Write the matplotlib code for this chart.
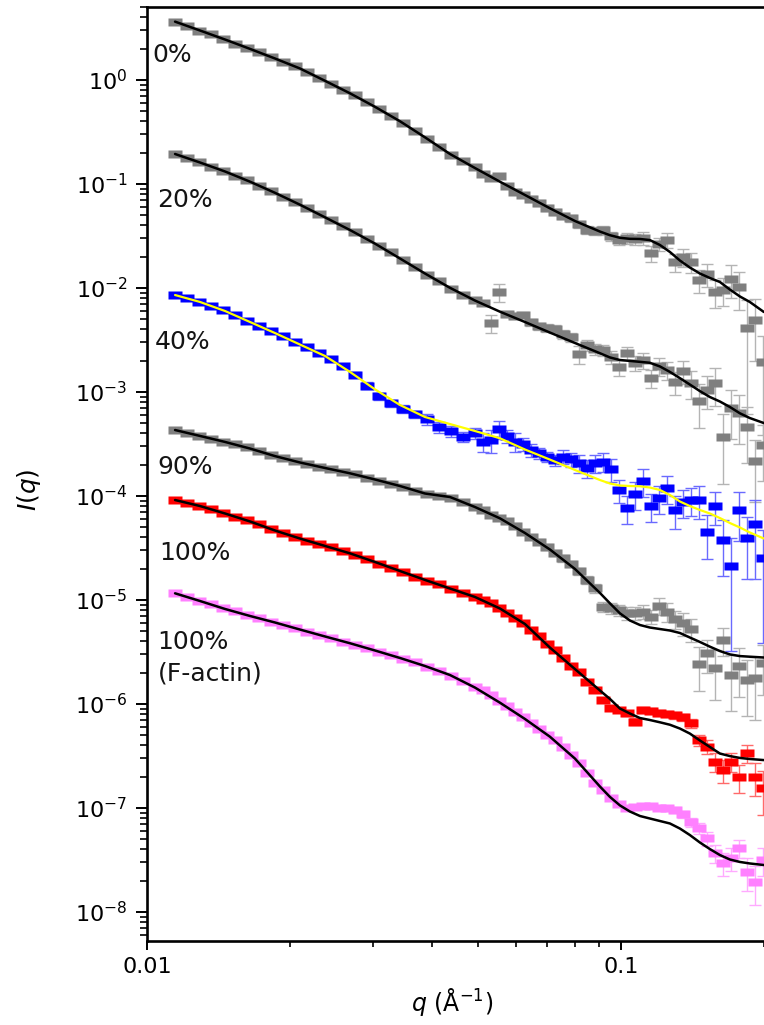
import numpy as np
import matplotlib
matplotlib.use("Agg")
import matplotlib.pyplot as plt
from matplotlib.path import Path
from matplotlib.ticker import (FixedLocator, FixedFormatter, LogLocator,
                               LogFormatterSciNotation, NullFormatter)

# ---------------------------------------------------------------- data
# scattering vector of the measured points (1/Angstrom), shared by all samples
q_data = [0.01146, 0.01215, 0.01288, 0.01365, 0.01447, 0.01534, 0.01626, 0.01723,
          0.01827, 0.01936, 0.02053, 0.02176, 0.02307, 0.02445, 0.02592, 0.02747,
          0.02912, 0.03087, 0.03272, 0.03469, 0.03677, 0.03898, 0.04132, 0.04380,
          0.04642, 0.04920,
          0.05115, 0.05318, 0.05529, 0.05748, 0.05976, 0.06213, 0.06459, 0.06714,
          0.06981, 0.07258, 0.07545, 0.07844, 0.08155, 0.08478, 0.08814, 0.09163,
          0.09526, 0.09903, 0.1030, 0.1070, 0.1113, 0.1157, 0.1203, 0.1250,
          0.1300, 0.1351, 0.1405, 0.1461, 0.1519, 0.1579, 0.1641, 0.1706,
          0.1774, 0.1844, 0.1917, 0.1993]

# measured intensities (offset for clarity)
I_0 = [3.64, 3.31, 2.99, 2.74, 2.48, 2.24, 2.03, 1.84, 1.66, 1.50, 1.35, 1.19, 1.05,
       0.925, 0.810, 0.710, 0.614, 0.526, 0.451, 0.384, 0.323, 0.271, 0.229, 0.192,
       0.1646, 0.1457,
       0.1248, 0.1142, 0.1194, 0.0957, 0.0838, 0.0784, 0.0718, 0.0657, 0.0588, 0.0538,
       0.0492, 0.0471, 0.0412, 0.0361, 0.0353, 0.0361, 0.0316, 0.0289, 0.0303, 0.0296,
       0.0303, 0.0217, 0.0265, 0.0289, 0.0178, 0.0199, 0.0178, 0.0119, 0.0136, 0.00915,
       0.00957, 0.0122, 0.01022, 0.00412, 0.00492, 0.00194]
I_20 = [0.1943, 0.1778, 0.1627, 0.1473, 0.1334, 0.1207, 0.1081, 0.0967, 0.0857, 0.0755,
        0.0671, 0.0588, 0.0511, 0.0451, 0.0395, 0.0342, 0.0296, 0.0256, 0.02195, 0.01879,
        0.01581, 0.01348, 0.01155, 0.00989, 0.00866, 0.00775,
        0.00718, 0.00461, 0.00915, 0.00562, 0.00538, 0.00550, 0.00471, 0.00431, 0.00412,
        0.00404, 0.00361, 0.00338, 0.00232, 0.00283, 0.00259, 0.00253, 0.00217, 0.00174,
        0.00237, 0.00190, 0.00203, 0.00136, 0.00178, 0.00163, 0.00125, 0.00159, 0.00122,
        0.00082, 0.00105, 0.00122, 0.000369, 0.000702, 0.000628, 0.000461, 0.000217,
        0.000309]
I_40 = [0.00856, 0.00793, 0.00734, 0.00671, 0.00614, 0.00550, 0.00487, 0.00431, 0.00386,
        0.00345, 0.00303, 0.00268, 0.00237, 0.00208, 0.00178, 0.00147, 0.00115, 0.000915,
        0.000784, 0.000690, 0.000614, 0.000550, 0.000461, 0.000422, 0.000372, 0.000403,
        0.000333, 0.000346, 0.000441, 0.000378, 0.000333, 0.000316, 0.000277, 0.000259,
        0.000239, 0.000222, 0.000239, 0.000225, 0.000208, 0.000185, 0.000206, 0.000214,
        0.000181, 0.0001142, 0.0000772, 0.0001038, 0.0001394, 0.0000807, 0.0000963,
        0.0001186, 0.0000734, 0.0000881, 0.0000915, 0.0000915, 0.0000454, 0.0000807,
        0.0000378, 0.0000214, 0.0000734, 0.0000397, 0.0000534, 0.0000255]
I_90 = [0.000431, 0.000403, 0.000378, 0.000353, 0.000334, 0.000313, 0.000293, 0.000271,
        0.000248, 0.000230, 0.000217, 0.000203, 0.000190, 0.000180, 0.000170, 0.000161,
        0.0001506, 0.0001409, 0.0001319, 0.0001221, 0.0001129, 0.0001045, 0.0001000,
        0.0000967, 0.0000876, 0.0000784,
        0.0000726, 0.0000664, 0.0000614, 0.0000569, 0.0000520, 0.0000451, 0.0000403,
        0.0000365, 0.0000323, 0.0000283, 0.0000251, 0.0000224, 0.0000188, 0.0000156,
        0.0000130, 0.00000862, 0.00000838, 0.00000801, 0.00000750, 0.00000750,
        0.00000772, 0.00000691, 0.00000882, 0.00000772, 0.00000657, 0.00000597,
        0.00000523, 0.00000242, 0.00000307, 0.00000220, 0.00000412, 0.00000190,
        0.00000232, 0.00000170, 0.00000177, 0.00000246]
I_100 = [0.0000915, 0.0000856, 0.0000801, 0.0000742, 0.0000694, 0.0000635, 0.0000588,
         0.0000538, 0.0000482, 0.0000438, 0.0000403, 0.0000373, 0.0000346, 0.0000320,
         0.0000293, 0.0000271, 0.0000248, 0.0000224, 0.0000205, 0.0000186, 0.0000168,
         0.0000154, 0.0000141, 0.0000128, 0.0000117, 0.0000107,
         0.0000100, 0.00000936, 0.00000838, 0.00000742, 0.00000671, 0.00000601,
         0.00000515, 0.00000446, 0.00000378, 0.00000331, 0.00000275, 0.00000232,
         0.00000203, 0.00000163, 0.00000136, 0.00000109, 0.000000915, 0.000000876,
         0.000000814, 0.000000676, 0.000000876, 0.000000862, 0.000000820, 0.000000801,
         0.000000784, 0.000000742, 0.000000652, 0.000000451, 0.000000389, 0.000000279,
         0.000000232, 0.000000279, 0.000000200, 0.000000336, 0.000000200, 0.000000155]
I_actin = [0.0000116, 0.0000107, 0.00000989, 0.00000915, 0.00000847, 0.00000784,
           0.00000725, 0.00000671, 0.00000621, 0.00000575, 0.00000538, 0.00000498,
           0.00000461, 0.00000431, 0.00000399, 0.00000369, 0.00000342, 0.00000316,
           0.00000293, 0.00000271, 0.00000251, 0.00000229, 0.00000210, 0.00000188,
           0.00000166, 0.00000146,
           0.00000135, 0.00000122, 0.00000108, 0.000000957, 0.000000847, 0.000000750,
           0.000000657, 0.000000575, 0.000000509, 0.000000446, 0.000000382, 0.000000327,
           0.000000271, 0.000000217, 0.000000174, 0.000000149, 0.000000125, 0.000000109,
           0.0000000993, 0.000000103, 0.000000105, 0.000000105, 0.000000101,
           0.0000000993, 0.0000000957, 0.0000000876, 0.0000000734, 0.0000000642,
           0.0000000511, 0.0000000369, 0.0000000294, 0.0000000331, 0.0000000410,
           0.0000000244, 0.0000000196, 0.0000000316]

# relative uncertainties of the measured points
err_0 = [0.01] * 10 + [0.02] * 10 + [0.03] * 6 + \
        [0.04, 0.04, 0.05, 0.05, 0.05, 0.05, 0.06, 0.06, 0.06, 0.07,
         0.07, 0.08, 0.08, 0.09, 0.09, 0.10, 0.10, 0.10, 0.12, 0.12,
         0.14, 0.18, 0.15, 0.16, 0.20, 0.20, 0.22, 0.25, 0.25, 0.30,
         0.30, 0.35, 0.40, 0.85, 0.60, 0.80]
err_20 = [0.015] * 8 + [0.02] * 8 + [0.03] * 10 + \
         [0.05, 0.20, 0.20, 0.06, 0.07, 0.07, 0.08, 0.08, 0.09, 0.09,
          0.10, 0.10, 0.20, 0.12, 0.12, 0.13, 0.14, 0.18, 0.15, 0.16,
          0.18, 0.20, 0.20, 0.20, 0.25, 0.25, 0.30, 0.45, 0.35, 0.40,
          0.65, 0.50, 0.50, 0.55, 0.60, 0.55]
err_40 = [0.03] * 10 + [0.05] * 6 + [0.08] * 5 + [0.12] * 5 + \
         [0.20, 0.25, 0.20, 0.15, 0.20, 0.15, 0.15, 0.12, 0.12, 0.12,
          0.15, 0.15, 0.20, 0.20, 0.20, 0.20, 0.25, 0.25, 0.30, 0.30,
          0.30, 0.30, 0.30, 0.30, 0.35, 0.30, 0.30, 0.35, 0.45, 0.35,
          0.55, 0.85, 0.50, 0.60, 0.70, 0.85]
err_90 = [0.015] * 10 + [0.02] * 10 + [0.03] * 6 + \
         [0.04, 0.04, 0.04, 0.05, 0.05, 0.05, 0.05, 0.06, 0.06, 0.06,
          0.07, 0.07, 0.08, 0.08, 0.10, 0.12, 0.12, 0.12, 0.15, 0.15,
          0.15, 0.15, 0.18, 0.20, 0.20, 0.25, 0.25, 0.45, 0.35, 0.50,
          0.30, 0.55, 0.50, 0.55, 0.60, 0.50]
err_100 = [0.01] * 13 + [0.015] * 13 + \
          [0.02] * 10 + \
          [0.03, 0.03, 0.03, 0.04, 0.04, 0.05, 0.05, 0.05, 0.06, 0.08,
           0.06, 0.06, 0.07, 0.07, 0.08, 0.08, 0.10, 0.12, 0.15, 0.20,
           0.25, 0.20, 0.30, 0.20, 0.35, 0.45]
err_actin = [0.01] * 13 + [0.015] * 13 + \
            [0.02] * 10 + [0.03] * 5 + [0.04] * 5 + \
            [0.05, 0.05, 0.06, 0.06, 0.07, 0.08, 0.10, 0.12, 0.15, 0.20,
             0.25, 0.25, 0.20, 0.35, 0.40, 0.30]

# model fits
q_fit = [0.01146, 0.01294, 0.01461, 0.01650, 0.01862, 0.02103, 0.02375, 0.02681,
         0.03028, 0.03419, 0.03860, 0.04359, 0.04920, 0.05556, 0.06274, 0.07083,
         0.07998, 0.09031, 0.09480, 0.09952, 0.1045, 0.1097, 0.1151, 0.1209,
         0.1269, 0.1332, 0.1398, 0.1468, 0.1541, 0.1618, 0.1698, 0.1783, 0.1871, 0.2003]
fit_0 = [3.64, 2.99, 2.45, 1.99, 1.61, 1.29, 0.982, 0.745, 0.552, 0.401, 0.281, 0.1943,
         0.1425, 0.1052, 0.0784, 0.0584, 0.0441, 0.0349, 0.0322, 0.0304, 0.0297, 0.0296,
         0.0289, 0.0259, 0.0222, 0.01838, 0.01574, 0.01378, 0.01248, 0.01142, 0.00967,
         0.00829, 0.00734, 0.00588]
fit_20 = [0.1943, 0.1609, 0.1319, 0.1052, 0.0823, 0.0632, 0.0478, 0.0361, 0.0267, 0.01921,
          0.01378, 0.01004, 0.00758, 0.00592, 0.00471, 0.00373, 0.00296, 0.00236, 0.00215,
          0.00203, 0.00199, 0.00195, 0.00191, 0.00176, 0.00156, 0.00136, 0.00118, 0.00102,
          0.000895, 0.000810, 0.000718, 0.000624, 0.000562, 0.000503]
fit_40 = [0.00856, 0.00734, 0.00601, 0.00471, 0.00369, 0.00286, 0.00222, 0.00156,
          0.00106, 0.000750, 0.000575, 0.000492, 0.000422, 0.000359, 0.000280, 0.000224,
          0.000178, 0.0001425, 0.0001319, 0.0001262, 0.0001248, 0.0001240, 0.0001207,
          0.0001142, 0.0001022, 0.0000886, 0.0000801, 0.0000734, 0.0000679, 0.0000614,
          0.0000550, 0.0000498, 0.0000446, 0.0000390]
fit_90 = [0.000431, 0.000378, 0.000331, 0.000286, 0.000242, 0.000210, 0.000186, 0.0001653,
          0.0001441, 0.0001248, 0.0001057, 0.0000978, 0.0000784, 0.0000610, 0.0000441,
          0.0000306, 0.0000199, 0.0000117, 0.00000930, 0.00000745, 0.00000635, 0.00000575,
          0.00000544, 0.00000526, 0.00000509, 0.00000482, 0.00000436, 0.00000395,
          0.00000356, 0.00000323, 0.00000300, 0.00000289, 0.00000285, 0.00000280]
fit_100 = [0.0000915, 0.0000801, 0.0000679, 0.0000569, 0.0000466, 0.0000390, 0.0000331,
           0.0000281, 0.0000232, 0.0000190, 0.0000156, 0.0000129, 0.0000107, 0.00000829,
           0.00000588, 0.00000349, 0.00000217, 0.00000135, 0.00000112, 0.000000905,
           0.000000810, 0.000000733, 0.000000702, 0.000000667, 0.000000632, 0.000000581,
           0.000000520, 0.000000446, 0.000000386, 0.000000334, 0.000000316, 0.000000303,
           0.000000296, 0.000000289]
fit_actin = [0.0000116, 0.00000978, 0.00000820, 0.00000702, 0.00000608, 0.00000520,
             0.00000446, 0.00000384, 0.00000327, 0.00000277, 0.00000232, 0.00000190,
             0.00000144, 0.00000103, 0.000000718, 0.000000485, 0.000000299, 0.000000161,
             0.000000128, 0.000000106, 0.0000000925, 0.0000000838, 0.0000000793,
             0.0000000750, 0.0000000710, 0.0000000635, 0.0000000550, 0.0000000466,
             0.0000000403, 0.0000000353, 0.0000000320, 0.0000000303, 0.0000000293,
             0.0000000283]

sample_labels = ["0%", "20%", "40%", "90%", "100%", "100%\n(F-actin)"]
x_tick_values = [0.01, 0.1]
x_tick_labels = ["0.01", "0.1"]
y_tick_values = [1e-8, 1e-7, 1e-6, 1e-5, 1e-4, 1e-3, 1e-2, 1e-1, 1e0]

# ---------------------------------------------------------------- style
plt.rcParams["font.family"] = ["DejaVu Sans"]
plt.rcParams["mathtext.fontset"] = "dejavusans"

fig = plt.figure(figsize=(7.64, 10.25), dpi=100)
ax = fig.add_axes([147 / 764, 84.3 / 1025, 700 / 764, 933.4 / 1025])

# flat rectangular marker
wide_square = Path([(-0.85, -0.5), (0.85, -0.5), (0.85, 0.5), (-0.85, 0.5), (-0.85, -0.5)],
                   [Path.MOVETO, Path.LINETO, Path.LINETO, Path.LINETO, Path.CLOSEPOLY])

series = [
    (I_0, err_0, "#7f7f7f", "#b4b4b4", fit_0, "black", 1.8),
    (I_20, err_20, "#7f7f7f", "#b4b4b4", fit_20, "black", 1.8),
    (I_40, err_40, "#0000ff", "#6a6aff", fit_40, "#ffff00", 1.6),
    (I_90, err_90, "#7f7f7f", "#b4b4b4", fit_90, "black", 1.8),
    (I_100, err_100, "#ff0000", "#ff6a6a", fit_100, "black", 1.8),
    (I_actin, err_actin, "#ff80ff", "#ffaaff", fit_actin, "black", 1.8),
]

qd = np.array(q_data)
for intens, rel_err, mcol, ecol, fit, fcol, flw in series:
    intens = np.array(intens)
    yerr = intens * np.array(rel_err)
    ax.errorbar(qd, intens, yerr=yerr, fmt="none", ecolor=ecol, elinewidth=1.0,
                capsize=4.5, capthick=1.0, zorder=2)
    ax.plot(qd, intens, linestyle="none", marker=wide_square, ms=9.5,
            mfc=mcol, mec="none", zorder=3)
    ax.plot(q_fit, fit, color=fcol, lw=flw, zorder=4, solid_capstyle="round")

ax.set_xscale("log")
ax.set_yscale("log")
ax.set_xlim(0.01, 0.3)
ax.set_ylim(5.3e-9, 5.0)

ax.xaxis.set_major_locator(FixedLocator(x_tick_values))
ax.xaxis.set_major_formatter(FixedFormatter(x_tick_labels))
ax.xaxis.set_minor_locator(LogLocator(base=10, subs=np.arange(2, 10)))
ax.xaxis.set_minor_formatter(NullFormatter())
ax.yaxis.set_major_locator(FixedLocator(y_tick_values))
ax.yaxis.set_major_formatter(LogFormatterSciNotation())
ax.yaxis.set_minor_locator(LogLocator(base=10, subs=np.arange(2, 10), numticks=20))
ax.yaxis.set_minor_formatter(NullFormatter())

ax.tick_params(axis="both", which="both", direction="out", top=False, right=False,
               colors="black", labelsize=16)
ax.tick_params(axis="y", which="major", length=8, width=1.4, pad=6)
ax.tick_params(axis="y", which="minor", length=5, width=1.2)
ax.tick_params(axis="x", which="major", length=6.5, width=1.4, pad=5)
ax.tick_params(axis="x", which="minor", length=4, width=1.2)

for side in ["left", "bottom", "top"]:
    ax.spines[side].set_linewidth(1.9)
ax.spines["right"].set_visible(False)

ax.set_ylabel(r"$I(q)$", fontsize=18)
ax.yaxis.set_label_coords(-0.148, 0.483)
ax.set_xlabel(r"$q$ (Å$^{-1}$)", fontsize=17)
ax.xaxis.set_label_coords(0.436, -0.049)

# sample labels, placed in axes coordinates
label_pos = [(0.007, 0.9489), (0.014, 0.7936), (0.011, 0.6414),
             (0.015, 0.5075), (0.017, 0.4154), (0.015, 0.3029)]
for text, (lx, ly) in zip(sample_labels, label_pos):
    ax.text(lx, ly, text, transform=ax.transAxes, fontsize=18, ha="left",
            va="center", color="#141414", linespacing=1.4, zorder=5)

fig.savefig("out.png", dpi=100)
